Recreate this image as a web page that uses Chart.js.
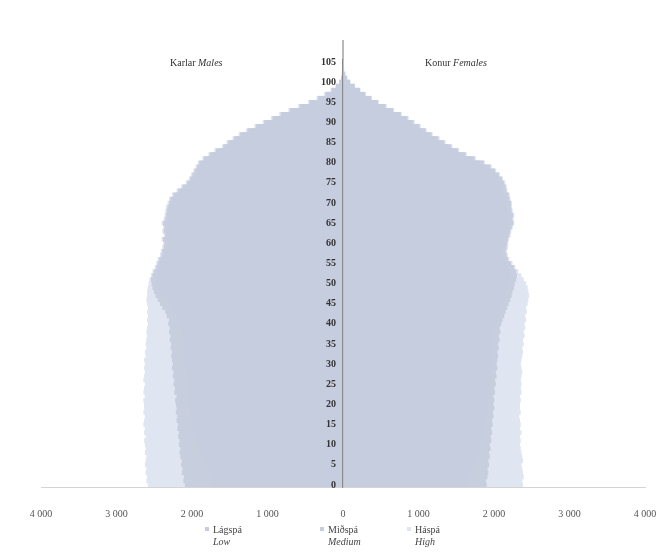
<!DOCTYPE html>
<html>
<head>
<meta charset="utf-8">
<script src="https://cdn.jsdelivr.net/npm/chart.js@4.4.1/dist/chart.umd.min.js"></script>
<style>
  html, body { margin: 0; padding: 0; background: #fff; }
  #wrap { width: 658px; height: 558px; }
</style>
</head>
<body>
<div id="wrap"><canvas id="pyramid"></canvas></div>
<script>
// ages 0..105
const ages = [];
for (let a = 0; a <= 105; a++) ages.push(a);

const seriesNames = ['Lágspá', 'Miðspá', 'Háspá'];
const seriesNamesEn = ['Low', 'Medium', 'High'];
const sideTitles = [['Karlar', 'Males'], ['Konur', 'Females']];
const xTicks = [-4000, -3000, -2000, -1000, 0, 1000, 2000, 3000, 4000];

const maleLow = [
  1700, 1720, 1740, 1760, 1780, 1800, 1820, 1840, 1860, 1880,
  1900, 1920, 1940, 1950, 1970, 1980, 1990, 2000, 2010, 2020,
  2030, 2040, 2030, 2050, 2040, 2060, 2050, 2070, 2060, 2080,
  2070, 2090, 2100, 2090, 2110, 2100, 2120, 2110, 2130, 2120,
  2150, 2150, 2180, 2210, 2250, 2290, 2330, 2370, 2400, 2430,
  2450, 2470, 2460, 2450, 2420, 2410, 2390, 2370, 2360, 2340,
  2330, 2350, 2320, 2340, 2330, 2340, 2310, 2300, 2290, 2280,
  2260, 2240, 2200, 2140, 2080, 2020, 1980, 1950, 1920, 1890,
  1860, 1800, 1720, 1640, 1550, 1490, 1410, 1330, 1230, 1120,
  1010, 900, 790, 670, 545, 420, 315, 215, 140, 85,
  40, 18, 9, 4, 2, 1
];
const maleMedium = [
  2090, 2110, 2100, 2130, 2120, 2140, 2130, 2150, 2160, 2150,
  2170, 2160, 2180, 2170, 2190, 2180, 2200, 2190, 2210, 2200,
  2210, 2220, 2200, 2230, 2220, 2240, 2230, 2250, 2240, 2260,
  2250, 2260, 2270, 2260, 2280, 2270, 2290, 2280, 2300, 2290,
  2310, 2300, 2330, 2350, 2390, 2420, 2450, 2480, 2500, 2520,
  2530, 2540, 2520, 2500, 2470, 2450, 2430, 2400, 2390, 2370,
  2360, 2380, 2350, 2370, 2360, 2380, 2350, 2340, 2330, 2320,
  2300, 2280, 2240, 2180, 2120, 2060, 2020, 1990, 1960, 1930,
  1900, 1840, 1760, 1680, 1580, 1520, 1440, 1360, 1260, 1150,
  1040, 930, 820, 700, 570, 440, 330, 230, 150, 90,
  45, 20, 10, 5, 2, 1
];
const maleHigh = [
  2580, 2600, 2590, 2610, 2600, 2620, 2610, 2600, 2620, 2610,
  2620, 2630, 2610, 2630, 2620, 2640, 2630, 2620, 2640, 2630,
  2630, 2640, 2620, 2640, 2630, 2620, 2640, 2630, 2620, 2630,
  2620, 2630, 2610, 2620, 2600, 2610, 2600, 2590, 2600, 2590,
  2580, 2590, 2580, 2590, 2580, 2590, 2600, 2590, 2590, 2580,
  2570, 2560, 2540, 2520, 2490, 2470, 2450, 2420, 2410, 2390,
  2380, 2400, 2370, 2390, 2380, 2400, 2370, 2360, 2350, 2340,
  2320, 2300, 2260, 2200, 2140, 2080, 2040, 2010, 1980, 1950,
  1920, 1860, 1780, 1700, 1600, 1540, 1460, 1380, 1280, 1170,
  1060, 950, 840, 720, 590, 460, 345, 245, 160, 95,
  50, 22, 11, 5, 2, 1
];
const femaleLow = [
  1620, 1640, 1660, 1680, 1700, 1720, 1740, 1760, 1780, 1800,
  1810, 1830, 1840, 1860, 1860, 1880, 1880, 1900, 1900, 1920,
  1910, 1920, 1910, 1930, 1920, 1940, 1930, 1950, 1940, 1960,
  1950, 1960, 1970, 1960, 1980, 1970, 1990, 1980, 2000, 1990,
  2010, 2030, 2050, 2070, 2090, 2110, 2130, 2150, 2160, 2180,
  2190, 2210, 2220, 2210, 2180, 2150, 2120, 2100, 2090, 2100,
  2110, 2120, 2140, 2150, 2170, 2190, 2180, 2190, 2170, 2160,
  2160, 2140, 2130, 2100, 2090, 2070, 2040, 2000, 1950, 1900,
  1810, 1700, 1580, 1480, 1390, 1300, 1220, 1130, 1050, 970,
  890, 810, 725, 630, 535, 440, 355, 275, 210, 143,
  85, 47, 23, 9, 4, 1
];
const femaleMedium = [
  1900, 1890, 1910, 1920, 1910, 1930, 1920, 1940, 1930, 1950,
  1940, 1960, 1950, 1970, 1960, 1980, 1970, 1990, 1980, 2000,
  1990, 2000, 1990, 2010, 2000, 2020, 2010, 2030, 2020, 2040,
  2030, 2040, 2050, 2040, 2060, 2050, 2070, 2060, 2080, 2070,
  2090, 2110, 2130, 2150, 2170, 2190, 2210, 2230, 2240, 2260,
  2270, 2290, 2300, 2290, 2260, 2220, 2180, 2160, 2150, 2160,
  2170, 2180, 2200, 2210, 2230, 2250, 2240, 2250, 2230, 2220,
  2220, 2200, 2190, 2160, 2150, 2130, 2100, 2060, 2010, 1950,
  1860, 1740, 1620, 1520, 1430, 1340, 1260, 1170, 1090, 1010,
  930, 850, 760, 660, 560, 460, 370, 290, 220, 150,
  90, 50, 25, 10, 4, 1
];
const femaleHigh = [
  2380, 2370, 2390, 2380, 2370, 2360, 2380, 2370, 2360, 2350,
  2340, 2350, 2340, 2360, 2340, 2350, 2340, 2330, 2350, 2340,
  2340, 2350, 2340, 2360, 2350, 2360, 2350, 2360, 2370, 2360,
  2350, 2360, 2370, 2380, 2370, 2390, 2380, 2400, 2390, 2410,
  2400, 2420, 2410, 2430, 2420, 2440, 2450, 2460, 2450, 2440,
  2420, 2390, 2360, 2320, 2280, 2240, 2200, 2180, 2170, 2180,
  2185, 2195, 2215, 2225, 2245, 2265, 2255, 2265, 2245, 2235,
  2235, 2215, 2205, 2175, 2165, 2145, 2115, 2075, 2025, 1965,
  1875, 1755, 1635, 1535, 1445, 1355, 1275, 1185, 1105, 1025,
  945, 865, 775, 675, 575, 470, 380, 300, 228, 156,
  94, 53, 27, 11, 4, 1
];

const colLow = '#c6cdde';
const colMed = '#c7cede';
const colHigh = '#dfe5f1';
const serif = '"Liberation Serif", "DejaVu Serif", serif';

function fmt(v) {
  return Math.abs(v).toString().replace(/\B(?=(\d{3})+(?!\d))/g, ' ');
}

function bars(label, values, color, male) {
  return {
    label: label,
    data: male ? values.map(v => -v) : values,
    backgroundColor: color,
    borderWidth: 0,
    barPercentage: 1,
    categoryPercentage: 1,
    grouped: false
  };
}

// titles, legend and the axis line above the plot
const extras = {
  id: 'extras',
  afterDraw(chart) {
    const ctx = chart.ctx;
    const x0 = chart.scales.x.getPixelForValue(0);
    const top = chart.chartArea.top;
    ctx.save();
    ctx.strokeStyle = '#8a8a8a';
    ctx.lineWidth = 1.2;
    ctx.beginPath();
    ctx.moveTo(x0, top - 20);
    ctx.lineTo(x0, top);
    ctx.stroke();

    ctx.fillStyle = '#333';
    ctx.textBaseline = 'middle';
    const titleX = [170, 425];
    sideTitles.forEach((t, i) => {
      ctx.font = '10px ' + serif;
      ctx.fillText(t[0], titleX[i], 63);
      const w = ctx.measureText(t[0] + ' ').width;
      ctx.font = 'italic 10px ' + serif;
      ctx.fillText(t[1], titleX[i] + w, 63);
    });

    const legX = [213, 328, 415];
    const legCols = [colLow, colMed, colHigh];
    seriesNames.forEach((n, i) => {
      ctx.fillStyle = legCols[i];
      ctx.fillRect(legX[i] - 8, 527, 4, 4);
      ctx.fillStyle = '#444';
      ctx.font = '10px ' + serif;
      ctx.fillText(n, legX[i], 530);
      ctx.font = 'italic 10px ' + serif;
      ctx.fillText(seriesNamesEn[i], legX[i], 542);
    });
    ctx.restore();
  }
};

new Chart(document.getElementById('pyramid'), {
  type: 'bar',
  data: {
    labels: ages,
    datasets: [
      bars(seriesNames[0], maleLow, colLow, true),
      bars(seriesNames[0], femaleLow, colLow, false),
      bars(seriesNames[1], maleMedium, colMed, true),
      bars(seriesNames[1], femaleMedium, colMed, false),
      bars(seriesNames[2], maleHigh, colHigh, true),
      bars(seriesNames[2], femaleHigh, colHigh, false)
    ]
  },
  options: {
    indexAxis: 'y',
    responsive: true,
    maintainAspectRatio: false,
    animation: false,
    layout: { padding: { left: 41, right: 13, top: 60, bottom: 38 } },
    plugins: {
      legend: { display: false },
      tooltip: { enabled: false }
    },
    scales: {
      x: {
        type: 'linear',
        min: -4000,
        max: 4000,
        afterBuildTicks: function(axis) {
          axis.ticks = xTicks.map(v => ({ value: v }));
        },
        afterFit: function(scale) {
          scale.paddingLeft = 0;
          scale.paddingRight = 0;
          scale.height = 33;
        },
        grid: { display: false, drawTicks: false },
        border: { display: true, color: '#d4d4d4', width: 1 },
        ticks: {
          padding: 21,
          color: '#555',
          font: { family: serif, size: 10 },
          callback: function(v) { return fmt(v); }
        }
      },
      y: {
        type: 'category',
        reverse: true,
        position: { x: 0 },
        afterFit: function(scale) {
          scale.paddingTop = 0;
          scale.paddingBottom = 0;
        },
        grid: { display: false, drawTicks: false },
        border: { display: true, color: '#8a8a8a', width: 1.2, z: 1 },
        ticks: {
          z: 1,
          autoSkip: false,
          padding: 0,
          color: '#333',
          font: { family: serif, size: 10, weight: 'bold' },
          callback: function(v, i) {
            return ages[i] % 5 === 0 ? String(ages[i]) + '\u2002\u2009' : '';
          }
        }
      }
    }
  },
  plugins: [extras]
});
</script>
</body>
</html>
